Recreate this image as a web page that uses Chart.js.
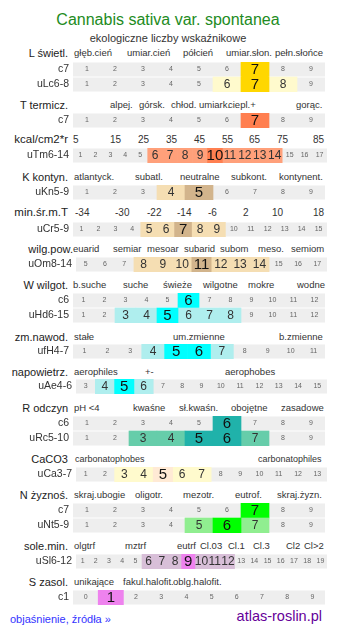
<!DOCTYPE html>
<html><head><meta charset="utf-8">
<script src="https://cdn.jsdelivr.net/npm/chart.js@4/dist/chart.umd.min.js"></script>
<style>
html,body{margin:0;padding:0;background:#fff;}
#wrap{position:relative;width:337px;height:634px;overflow:hidden;font-family:"Liberation Sans",Arial,sans-serif;}
.t{position:absolute;white-space:nowrap;line-height:1;}
canvas{position:absolute;left:0;}
</style></head><body><div id="wrap"></div>
<script>
// ---------- DATA ----------
const title = 'Cannabis sativa var. spontanea';
const subtitle = 'ekologiczne liczby wskaźnikowe';

const lHead = 'L świetl.';
const lCats = ['głęb.cień','umiar.cień','półcień','umiar.słon.','pełn.słońce'];
const lRows = ['c7','uLc6-8'];
const lCells = [1,2,3,4,5,6,7,8,9];
const lLight = [[],[6,8]];
const lStrong = [[7],[7]];

const tHead = 'T termicz.';
const tCats = ['alpej.','górsk.','chłod.','umiark.','ciepl.+','gorąc.'];
const tRows = ['c7'];
const tCells = [1,2,3,4,5,6,7,8,9];
const tLight = [[]];
const tStrong = [[7]];

const kcalHead = 'kcal/cm2*r';
const kcalCats = ['5','15','25','35','45','55','65','75','85'];
const kcalRows = ['uTm6-14'];
const kcalCells = [1,2,3,4,5,6,7,8,9,10,11,12,13,14,15,16,17];
const kcalLight = [[6,7,8,9,11,12,13,14]];
const kcalStrong = [[10]];

const kHead = 'K kontyn.';
const kCats = ['atlantyck.','subatl.','neutralne','subkont.','kontynent.'];
const kRows = ['uKn5-9'];
const kCells = [1,2,3,4,5,6,7,8,9];
const kLight = [[4]];
const kStrong = [[5]];

const mHead = 'min.śr.m.T';
const mCats = ['-34','-30','-22','-14','-6','2','10','18'];
const mRows = ['uCr5-9'];
const mCells = [1,2,3,4,5,6,7,8,9,10,11,12,13,14,15];
const mLight = [[5,6,8,9]];
const mStrong = [[7]];

const oHead = 'wilg.pow.';
const oCats = ['euarid','semiar','mesoar','subarid','subom','meso.','semiom'];
const oRows = ['uOm8-14'];
const oCells = [5,6,7,8,9,10,11,12,13,14,15,16,17];
const oLight = [[8,9,10,12,13,14]];
const oStrong = [[11]];

const wHead = 'W wilgot.';
const wCats = ['b.suche','suche','świeże','wilgotne','mokre','wodne'];
const wRows = ['c6','uHd6-15'];
const wCells = [1,2,3,4,5,6,7,8,9,10,11,12];
const wLight = [[],[3,4,6,7,8]];
const wStrong = [[6],[5]];

const fHead = 'zm.nawod.';
const fCats = ['stałe','um.zmienne','b.zmienne'];
const fRows = ['ufH4-7'];
const fCells = [1,2,3,4,5,6,7,8,9,10,11];
const fLight = [[4,7]];
const fStrong = [[5,6]];

const aHead = 'napowietrz.';
const aCats = ['aerophiles','+-','aerophobes'];
const aRows = ['uAe4-6'];
const aCells = [3,4,5,6,7,8,9,10,11,12,13,14,15];
const aLight = [[4,6]];
const aStrong = [[5]];

const rHead = 'R odczyn';
const rCats = ['pH <4','kwaśne','sł.kwaśn.','obojętne','zasadowe'];
const rRows = ['c6','uRc5-10'];
const rCells = [1,2,3,4,5,6,7,8,9];
const rLight = [[],[3,4,7]];
const rStrong = [[6],[5,6]];

const cHead = 'CaCO3';
const cCats = ['carbonatophobes','carbonatophiles'];
const cRows = ['uCa3-7'];
const cCells = [1,2,3,4,5,6,7,8,9,10,11,12,13];
const cLight = [[3,4,6,7]];
const cStrong = [[5]];

const nHead = 'N żyznoś.';
const nCats = ['skraj.ubogie','oligotr.','mezotr.','eutrof.','skraj.żyzn.'];
const nRows = ['c7','uNt5-9'];
const nCells = [1,2,3,4,5,6,7,8,9];
const nLight = [[],[5,7]];
const nStrong = [[7],[6]];

const sHead = 'sole.min.';
const sCats = ['olgtrf','mztrf','eutrf','Cl.03','Cl.1','Cl.3','Cl2','Cl>2'];
const sRows = ['uSl6-12'];
const sCells = [1,2,3,4,5,6,7,8,9,10,11,12,13,14,15,16,17,18,19];
const sLight = [[6,7,8,10,11,12]];
const sStrong = [[9]];

const zHead = 'S zasol.';
const zCats = ['unikające','fakul.halofit.','oblg.halofit.'];
const zRows = ['c1'];
const zCells = [0,1,2,3,4,5,6,7,8,9];
const zLight = [[]];
const zStrong = [[1]];

// ---------- LAYOUT / STYLE ----------
const FONT = '"Liberation Sans", Arial, sans-serif';
const blocks = [
  {head:lHead,cats:lCats,rows:lRows,cells:lCells,light:lLight,strong:lStrong,lc:'#FFFACD',sc:'#FFD700',top:62,hy:53,left:73,right:325,hx:68,cx:[74,127,183,226,275]},
  {head:tHead,cats:tCats,rows:tRows,cells:tCells,light:tLight,strong:tStrong,lc:'#FFA07A',sc:'#FF7F50',top:113,hy:105,left:73,right:325,hx:68,cx:[110,139,171,199,228,296]},
  {head:kcalHead,cats:kcalCats,rows:kcalRows,cells:kcalCells,light:kcalLight,strong:kcalStrong,lc:'#FFA07A',sc:'#FF7F50',top:148,hy:140,left:73,right:327,hx:68,cx:[73,110,138,166,194,222,249,277,313],big:true},
  {head:kHead,cats:kCats,rows:kRows,cells:kCells,light:kLight,strong:kStrong,lc:'#F5DEB3',sc:'#D2B48C',top:185,hy:177,left:73,right:325,hx:68,cx:[74,135,180,231,279]},
  {head:mHead,cats:mCats,rows:mRows,cells:mCells,light:mLight,strong:mStrong,lc:'#F5DEB3',sc:'#D2B48C',top:222,hy:213,left:73,right:327,hx:68,cx:[75,115,147,177,208,243,272,313],big:true},
  {head:oHead,cats:oCats,rows:oRows,cells:oCells,light:oLight,strong:oStrong,lc:'#F5DEB3',sc:'#D2B48C',top:257,hy:249,left:76,right:327,hx:73,cx:[73,113,147,184,220,258,291]},
  {head:wHead,cats:wCats,rows:wRows,cells:wCells,light:wLight,strong:wStrong,lc:'#AFEEEE',sc:'#00FFFF',top:293,hy:285,left:73,right:325,hx:68,cx:[73,123,163,203,248,297]},
  {head:fHead,cats:fCats,rows:fRows,cells:fCells,light:fLight,strong:fStrong,lc:'#AFEEEE',sc:'#00FFFF',top:344,hy:337,left:73,right:325,hx:68,cx:[74,173,279]},
  {head:aHead,cats:aCats,rows:aRows,cells:aCells,light:aLight,strong:aStrong,lc:'#AFEEEE',sc:'#00FFFF',top:379,hy:372,left:76,right:327,hx:68,cx:[74,145,225]},
  {head:rHead,cats:rCats,rows:rRows,cells:rCells,light:rLight,strong:rStrong,lc:'#66CDAA',sc:'#20B2AA',top:416,hy:408,left:73,right:325,hx:68,cx:[74,133,179,231,281]},
  {head:cHead,cats:cCats,rows:cRows,cells:cCells,light:cLight,strong:cStrong,lc:'#FFFACD',sc:'#FFEAD5',top:467,hy:459,left:76,right:327,hx:68,cx:[75,258],small:true},
  {head:nHead,cats:nCats,rows:nRows,cells:nCells,light:nLight,strong:nStrong,lc:'#90EE90',sc:'#00FF00',top:503,hy:495,left:73,right:325,hx:68,cx:[74,135,183,235,277]},
  {head:sHead,cats:sCats,rows:sRows,cells:sCells,light:sLight,strong:sStrong,lc:'#D8BFD8',sc:'#EE82EE',top:554,hy:546,left:76,right:327,hx:68,cx:[74,125,177,200,228,253,286,304]},
  {head:zHead,cats:zCats,rows:zRows,cells:zCells,light:zLight,strong:zStrong,lc:'#D8BFD8',sc:'#EE82EE',top:590,hy:582,left:73,right:325,hx:68,cx:[74,123,173]}
];
const ROW_H = 15;

const wrap = document.getElementById('wrap');
function addText(txt, x, cy, size, color, align){
  const d = document.createElement('div');
  d.className = 't';
  d.textContent = txt;
  d.style.fontSize = size + 'px';
  d.style.color = color;
  d.style.top = (cy - size/2) + 'px';
  if (align === 'right') { d.style.right = (337 - x) + 'px'; d.style.textAlign = 'right'; }
  else if (align === 'center') { d.style.left = '0px'; d.style.width = (2*x) + 'px'; d.style.textAlign = 'center'; }
  else d.style.left = x + 'px';
  wrap.appendChild(d);
}

addText(title, 168, 20, 16, '#228B22', 'center');
addText(subtitle, 168, 38, 11, '#333', 'center');

const numPlugin = {
  id: 'cellNums',
  afterDatasetsDraw(chart, args, opts) {
    const b = opts.block; if (!b) return;
    const c = chart.ctx, xs = chart.scales.x, ys = chart.scales.y;
    c.save(); c.textAlign = 'center'; c.textBaseline = 'middle';
    b.rows.forEach((r, ri) => {
      const y = ys.getPixelForValue(ri);
      b.cells.forEach(v => {
        const x = xs.getPixelForValue(v);
        if (b.strong[ri].includes(v)) { c.font = '15px ' + FONT; c.fillStyle = '#111'; c.fillText(String(v), x, y + 0.5); }
        else if (b.light[ri].includes(v)) { c.font = '12px ' + FONT; c.fillStyle = '#333'; c.fillText(String(v), x, y + 0.5); }
        else { c.font = '7px ' + FONT; c.fillStyle = '#666'; c.fillText(String(v), x, y); }
      });
    });
    c.restore();
  }
};

blocks.forEach(b => {
  addText(b.head, b.hx, b.hy, b.big ? 11.5 : 11, '#222', 'right');
  b.cats.forEach((t, i) => addText(t, b.cx[i], b.hy, b.big ? 10 : (b.small ? 9 : 9.5), '#333', 'left'));

  const cv = document.createElement('canvas');
  cv.width = b.right; cv.height = b.rows.length * ROW_H;
  cv.style.top = b.top + 'px';
  wrap.appendChild(cv);
  const lo = b.cells[0] - 0.5, hi = b.cells[b.cells.length - 1] + 0.5;
  const hiData = [];
  b.rows.forEach((r, ri) => {
    b.light[ri].forEach(v => hiData.push({x: [v - 0.5, v + 0.5], y: r, lvl: 1}));
    b.strong[ri].forEach(v => hiData.push({x: [v - 0.5, v + 0.5], y: r, lvl: 2}));
  });
  new Chart(cv, {
    type: 'bar',
    data: {
      labels: b.rows,
      datasets: [
        {data: b.rows.map(() => [lo, hi]), backgroundColor: '#EEEEEE', barPercentage: 0.93, categoryPercentage: 1, grouped: false, order: 2, borderWidth: 0},
        {data: hiData, backgroundColor: ctx => (ctx.raw && ctx.raw.lvl === 2) ? b.sc : b.lc, barPercentage: 1, categoryPercentage: 1, grouped: false, order: 1, borderWidth: 0}
      ]
    },
    options: {
      indexAxis: 'y', responsive: false, maintainAspectRatio: false, animation: false, events: [],
      layout: {padding: 0},
      plugins: {legend: {display: false}, tooltip: {enabled: false}, cellNums: {block: b}},
      scales: {
        x: {type: 'linear', min: lo, max: hi, display: false},
        y: {type: 'category', grid: {display: false, drawTicks: false}, border: {display: false},
            ticks: {font: {size: 10.5, family: FONT}, color: '#333', padding: 4, autoSkip: false},
            afterFit(s) { s.width = b.left; s.paddingTop = 0; s.paddingBottom = 0; }}
      }
    },
    plugins: [numPlugin]
  });
});

addText('objaśnienie, źródła »', 10, 619, 11, '#3333FF', 'left');
addText('atlas-roslin.pl', 322, 616, 14.5, '#660099', 'right');
</script>
</body></html>
